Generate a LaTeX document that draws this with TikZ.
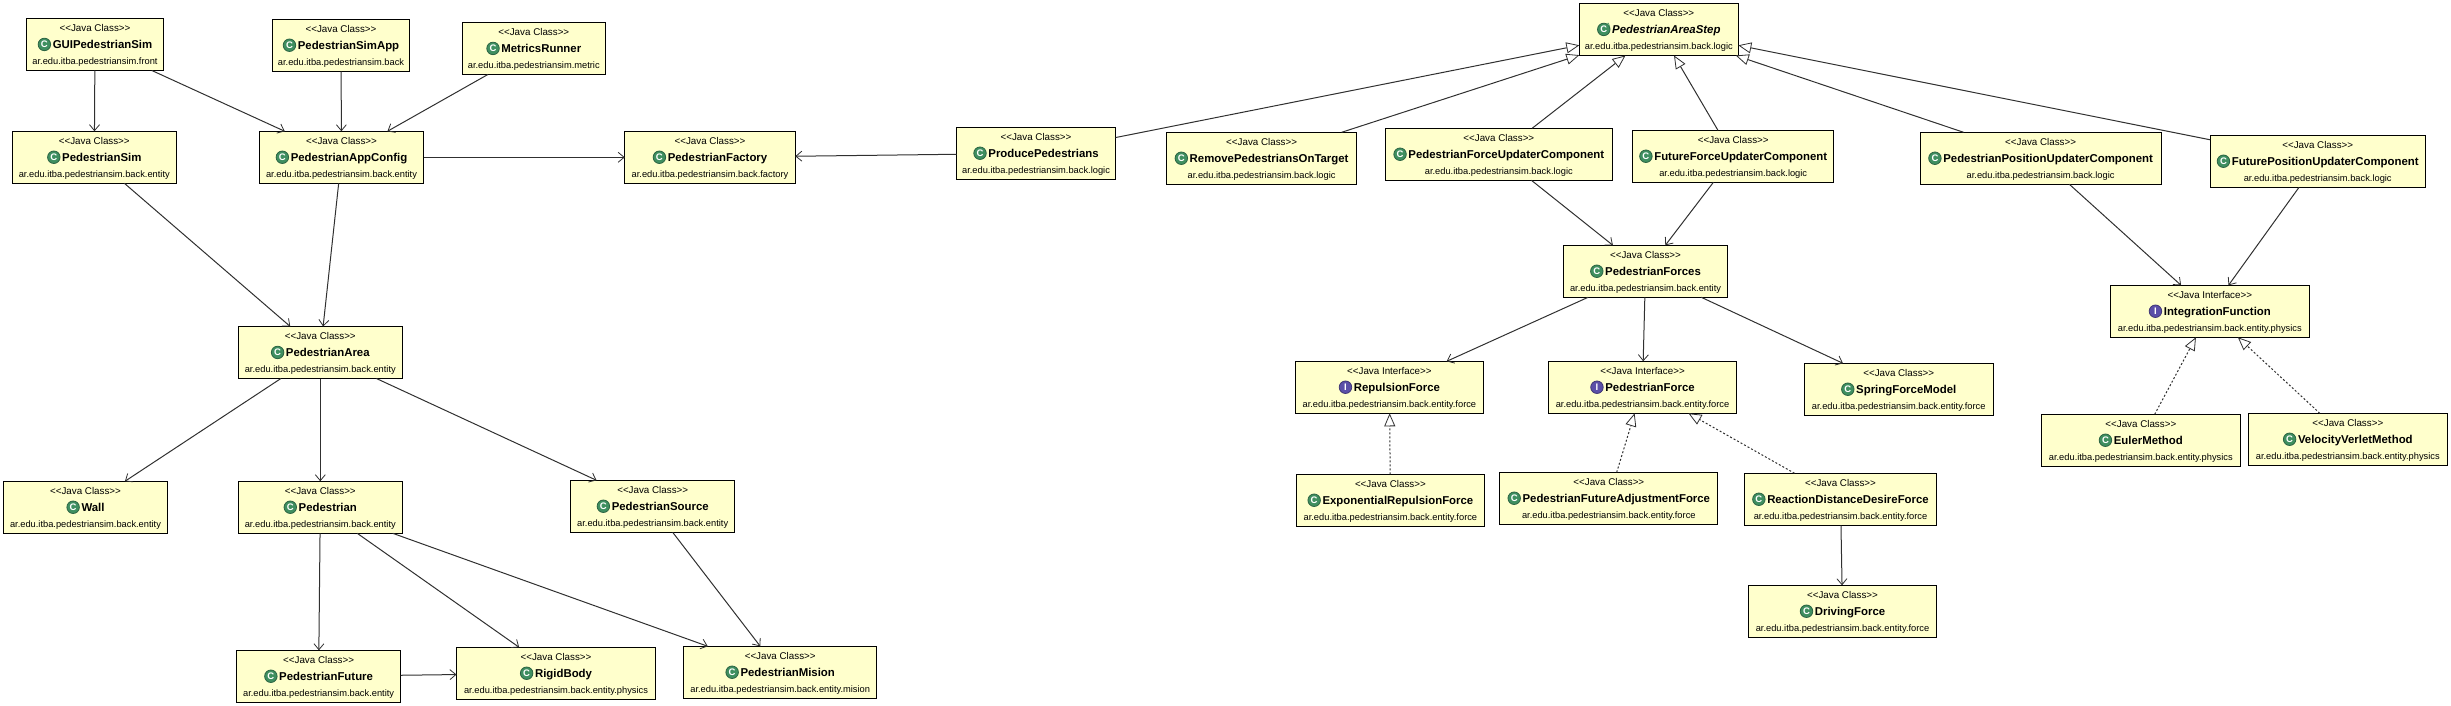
\documentclass[tikz,border=0pt]{standalone}
\usepackage{fontspec}
\setmainfont{Liberation Sans}
\usetikzlibrary{arrows.meta}
\definecolor{boxfill}{HTML}{FFFFCC}
\definecolor{linegray}{HTML}{303030}
\definecolor{iconc}{HTML}{3F8F60}
\definecolor{iconi}{HTML}{5B4FA8}
\tikzset{
	jbox/.style={draw=black,line width=1pt,fill=boxfill,rectangle,minimum height=52pt,inner sep=0pt,outer sep=0pt,align=center,font=\fontsize{10.4}{16.4}\selectfont},
	badgenode/.style={circle,draw=#1!70!black,line width=0.8pt,fill=#1,text=white,inner sep=0pt,outer sep=0pt,minimum width=12.5pt,minimum height=12.5pt,font=\fontsize{9.5}{9.5}\selectfont\bfseries},
	assoc/.style={draw=linegray,line width=1pt,-{Straight Barb[length=6pt,width=10pt,line width=0.8pt]}},
	extends/.style={draw=linegray,line width=1pt,-{Triangle[open,fill=white,length=13pt,width=11pt,line width=0.8pt]}},
	impl/.style={extends,dash pattern=on 2pt off 2pt},
}
\newcommand{\badge}[2]{\tikz[baseline=-3.9pt]\node[badgenode=#1]{#2};}
\newcommand{\badgeabs}{\tikz[baseline=-3.9pt]{\node[badgenode=iconc] (c) {C}; \node[inner sep=0pt,text=iconc,minimum width=0pt,minimum height=0pt,font=\fontsize{6}{6}\selectfont\bfseries] (a) at (c.north east) {A};}}
\newcommand{\stereo}[1]{\rule{0pt}{9.6pt}{\fontsize{9.8}{16.4}\selectfont <{}<Java #1>{}>}}
\newcommand{\pkg}[1]{{\fontsize{9.3}{16.4}\selectfont #1}}
\newcommand{\jc}[2]{\stereo{Class}\\\badge{iconc}{C}\,{\fontsize{11.4}{16.4}\selectfont\bfseries #1}\\\pkg{#2}}
\newcommand{\ji}[2]{\stereo{Interface}\\\badge{iconi}{I}\,{\fontsize{11.4}{16.4}\selectfont\bfseries #1}\\\pkg{#2}}
\newcommand{\ja}[2]{\stereo{Class}\\\badgeabs\,{\fontsize{11.4}{16.4}\selectfont\bfseries\itshape #1}\\\pkg{#2}}
\begin{document}
\begin{tikzpicture}[x=1pt,y=-1pt]
	\useasboundingbox (0,0) rectangle (2451,706);
	%
	\node[jbox,minimum width=137pt] (gui) at (95,44.5) {\jc{GUIPedestrianSim}{ar.edu.itba.pedestriansim.front}};
	\node[jbox,minimum width=137pt] (simapp) at (341,45.3) {\jc{PedestrianSimApp}{ar.edu.itba.pedestriansim.back}};
	\node[jbox,minimum width=143pt] (metrics) at (533.8,48.5) {\jc{MetricsRunner}{ar.edu.itba.pedestriansim.metric}};
	\node[jbox,minimum width=164pt] (pedsim) at (94.3,157.3) {\jc{PedestrianSim}{ar.edu.itba.pedestriansim.back.entity}};
	\node[jbox,minimum width=164pt] (appconfig) at (341.5,157.3) {\jc{PedestrianAppConfig}{ar.edu.itba.pedestriansim.back.entity}};
	\node[jbox,minimum width=170.5pt] (factory) at (710,157.3) {\jc{PedestrianFactory}{ar.edu.itba.pedestriansim.back.factory}};
	\node[jbox,minimum width=164pt] (area) at (320.3,352.5) {\jc{PedestrianArea}{ar.edu.itba.pedestriansim.back.entity}};
	\node[jbox,minimum width=164pt] (wall) at (85.5,507.3) {\jc{Wall}{ar.edu.itba.pedestriansim.back.entity}};
	\node[jbox,minimum width=164pt] (pedestrian) at (320.3,507.3) {\jc{Pedestrian}{ar.edu.itba.pedestriansim.back.entity}};
	\node[jbox,minimum width=164pt] (source) at (652.7,506.3) {\jc{PedestrianSource}{ar.edu.itba.pedestriansim.back.entity}};
	\node[jbox,minimum width=164pt] (future) at (318.6,676.3) {\jc{PedestrianFuture}{ar.edu.itba.pedestriansim.back.entity}};
	\node[jbox,minimum width=199pt] (rigid) at (556,673.3) {\jc{RigidBody}{ar.edu.itba.pedestriansim.back.entity.physics}};
	\node[jbox,minimum width=193pt] (mision) at (780.2,672.3) {\jc{PedestrianMision}{ar.edu.itba.pedestriansim.back.entity.mision}};
	%
	\node[jbox,minimum width=159pt] (step) at (1658.8,29.5) {\ja{PedestrianAreaStep}{ar.edu.itba.pedestriansim.back.logic}};
	\node[jbox,minimum width=159pt] (produce) at (1036,153.3) {\jc{ProducePedestrians}{ar.edu.itba.pedestriansim.back.logic}};
	\node[jbox,minimum width=190pt] (remove) at (1261.6,158.3) {\jc{RemovePedestriansOnTarget}{ar.edu.itba.pedestriansim.back.logic}};
	\node[jbox,minimum width=227pt] (forceup) at (1498.8,154.3) {\jc{PedestrianForceUpdaterComponent}{ar.edu.itba.pedestriansim.back.logic}};
	\node[jbox,minimum width=200.7pt] (futureforce) at (1733.2,156.3) {\jc{FutureForceUpdaterComponent}{ar.edu.itba.pedestriansim.back.logic}};
	\node[jbox,minimum width=241pt] (posup) at (2040.6,158.3) {\jc{PedestrianPositionUpdaterComponent}{ar.edu.itba.pedestriansim.back.logic}};
	\node[jbox,minimum width=215pt] (futurepos) at (2317.7,161.3) {\jc{FuturePositionUpdaterComponent}{ar.edu.itba.pedestriansim.back.logic}};
	\node[jbox,minimum width=164pt] (forces) at (1645.5,271.3) {\jc{PedestrianForces}{ar.edu.itba.pedestriansim.back.entity}};
	\node[jbox,minimum width=199pt] (integration) at (2209.8,311.3) {\ji{IntegrationFunction}{ar.edu.itba.pedestriansim.back.entity.physics}};
	\node[jbox,minimum width=188pt] (repulsion) at (1389.4,387.3) {\ji{RepulsionForce}{ar.edu.itba.pedestriansim.back.entity.force}};
	\node[jbox,minimum width=188pt] (pedforce) at (1642.5,387.3) {\ji{PedestrianForce}{ar.edu.itba.pedestriansim.back.entity.force}};
	\node[jbox,minimum width=188.6pt] (spring) at (1898.7,389.3) {\jc{SpringForceModel}{ar.edu.itba.pedestriansim.back.entity.force}};
	\node[jbox,minimum width=188pt] (exprep) at (1390.4,500.3) {\jc{ExponentialRepulsionForce}{ar.edu.itba.pedestriansim.back.entity.force}};
	\node[jbox,minimum width=218pt] (futureadj) at (1608.8,498.3) {\jc{PedestrianFutureAdjustmentForce}{ar.edu.itba.pedestriansim.back.entity.force}};
	\node[jbox,minimum width=192pt] (reaction) at (1840.5,499.3) {\jc{ReactionDistanceDesireForce}{ar.edu.itba.pedestriansim.back.entity.force}};
	\node[jbox,minimum width=188pt] (driving) at (1842.5,611.3) {\jc{DrivingForce}{ar.edu.itba.pedestriansim.back.entity.force}};
	\node[jbox,minimum width=199pt] (euler) at (2140.8,440.3) {\jc{EulerMethod}{ar.edu.itba.pedestriansim.back.entity.physics}};
	\node[jbox,minimum width=199pt] (verlet) at (2347.8,439.3) {\jc{VelocityVerletMethod}{ar.edu.itba.pedestriansim.back.entity.physics}};
	%
	\draw[assoc] (gui)--(pedsim);
	\draw[assoc] (gui)--(appconfig);
	\draw[assoc] (simapp)--(appconfig);
	\draw[assoc] (metrics)--(appconfig);
	\draw[assoc] (appconfig)--(factory);
	\draw[assoc] (pedsim)--(area);
	\draw[assoc] (appconfig)--(area);
	\draw[assoc] (area)--(wall);
	\draw[assoc] (area)--(pedestrian);
	\draw[assoc] (area)--(source);
	\draw[assoc] (pedestrian)--(future);
	\draw[assoc] (pedestrian)--(rigid);
	\draw[assoc] (pedestrian)--(mision);
	\draw[assoc] (source)--(mision);
	\draw[assoc] (future)--(rigid);
	\draw[assoc] (produce)--(factory);
	%
	\foreach \sub in {produce,remove,forceup,futureforce,posup,futurepos}
		\draw[extends] (\sub)--(step);
	\draw[assoc] (forceup)--(forces);
	\draw[assoc] (futureforce)--(forces);
	\draw[assoc] (posup)--(integration);
	\draw[assoc] (futurepos)--(integration);
	\draw[assoc] (forces)--(repulsion);
	\draw[assoc] (forces)--(pedforce);
	\draw[assoc] (forces)--(spring);
	\draw[assoc] (reaction)--(driving);
	%
	\draw[impl] (exprep)--(repulsion);
	\draw[impl] (futureadj)--(pedforce);
	\draw[impl] (reaction)--(pedforce);
	\draw[impl] (euler)--(integration);
	\draw[impl] (verlet)--(integration);
\end{tikzpicture}
\end{document}
